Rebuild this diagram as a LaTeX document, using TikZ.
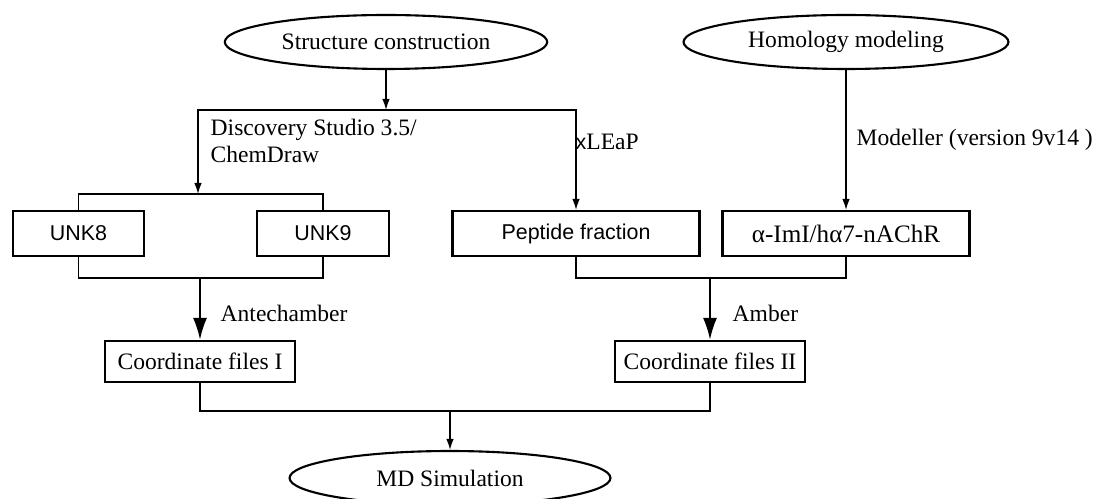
\documentclass[tikz,border=0pt]{standalone}
\usepackage{fontspec}
\setmainfont{Liberation Serif}
\setsansfont{Liberation Sans}
\usetikzlibrary{arrows.meta, calc, positioning, shapes.geometric}
\newcommand{\txtsize}{\fontsize{13.4}{15.3}\selectfont}
\newcommand{\boxsize}{\fontsize{12.2}{14}\selectfont}
\tikzstyle{oval} = [draw, ellipse, line width=1.2pt, minimum width=6.45cm, minimum height=1.08cm, inner sep=0pt, font=\txtsize]
\tikzstyle{sbox} = [draw, rectangle, line width=1.2pt, minimum height=0.9cm, inner sep=0pt, font=\sffamily\boxsize]
\tikzstyle{cbox} = [draw, rectangle, line width=1.2pt, minimum width=3.8cm, minimum height=0.82cm, inner sep=0pt, font=\txtsize]
\tikzstyle{lbl} = [anchor=west, inner sep=0pt, align=left, font=\txtsize]
\tikzstyle{bigarrow} = [-{Latex[length=4.4mm, width=2.8mm]}, line width=1.3pt]
\tikzstyle{junction} = [coordinate]

\begin{document}
\begin{tikzpicture}[>={Latex[length=2.2mm, width=1.5mm]}, x=0.02cm, y=-0.02cm, line width=0.8pt]

  \useasboundingbox (0,0) rectangle (1094,499);

  \node[oval] (SC) at (386,42) {Structure construction};
  \node[oval, minimum width=6.5cm] (HM) at (846,42) {Homology modeling};

  \node[sbox, minimum width=2.62cm] (UNK8) at (78.5,233.5) {UNK8};
  \node[sbox, minimum width=2.64cm] (UNK9) at (323,233.5) {UNK9};
  \node[sbox, minimum width=4.94cm] (PF) at (576,233.5) {Peptide fraction};
  \node[sbox, minimum width=4.94cm, font=\fontsize{14.3}{16}\selectfont] (AR) at (846,233.5) {α-ImI/hα7-nAChR};

  \node[cbox] (CF1) at (200,361.5) {Coordinate files I};
  \node[cbox] (CF2) at (710,361.5) {Coordinate files II};

  \node[oval, minimum width=6.42cm] (MD) at (450,478) {MD Simulation};

  % junctions of the branching lines
  \node[junction] (J1) at (386,110) {};
  \node[junction] (J2) at (198,194) {};
  \node[junction] (J3) at (200,278) {};
  \node[junction] (J4) at (710,278) {};
  \node[junction] (J5) at (450,411) {};

  \draw[->] (SC.south) -- (J1);
  \draw[->] (J1) -| (J2);
  \draw[->] (J1) -| (PF.north);
  \draw (UNK8.north) |- (J2) -| (UNK9.north);
  \draw[->] (HM.south) -- (AR.north);

  \draw (UNK8.south) |- (J3) -| (UNK9.south);
  \draw[bigarrow] (J3) -- (CF1.north);
  \draw (PF.south) |- (J4) -| (AR.south);
  \draw[bigarrow] (J4) -- (CF2.north);

  \draw (CF1.south) |- (J5) -| (CF2.south);
  \draw[->] (J5) -- (MD.north);

  \node[lbl] (DS) at (210,141) {Discovery Studio 3.5/\\ChemDraw};
  \node[lbl] (XL) at (575,142) {{\sffamily\boxsize x}LEaP};
  \node[lbl] (MV) at (856,140) {Modeller (version 9v14 )};
  \node[lbl] (AC) at (220,313) {Antechamber};
  \node[lbl] (AM) at (732,313) {Amber};

\end{tikzpicture}
\end{document}
